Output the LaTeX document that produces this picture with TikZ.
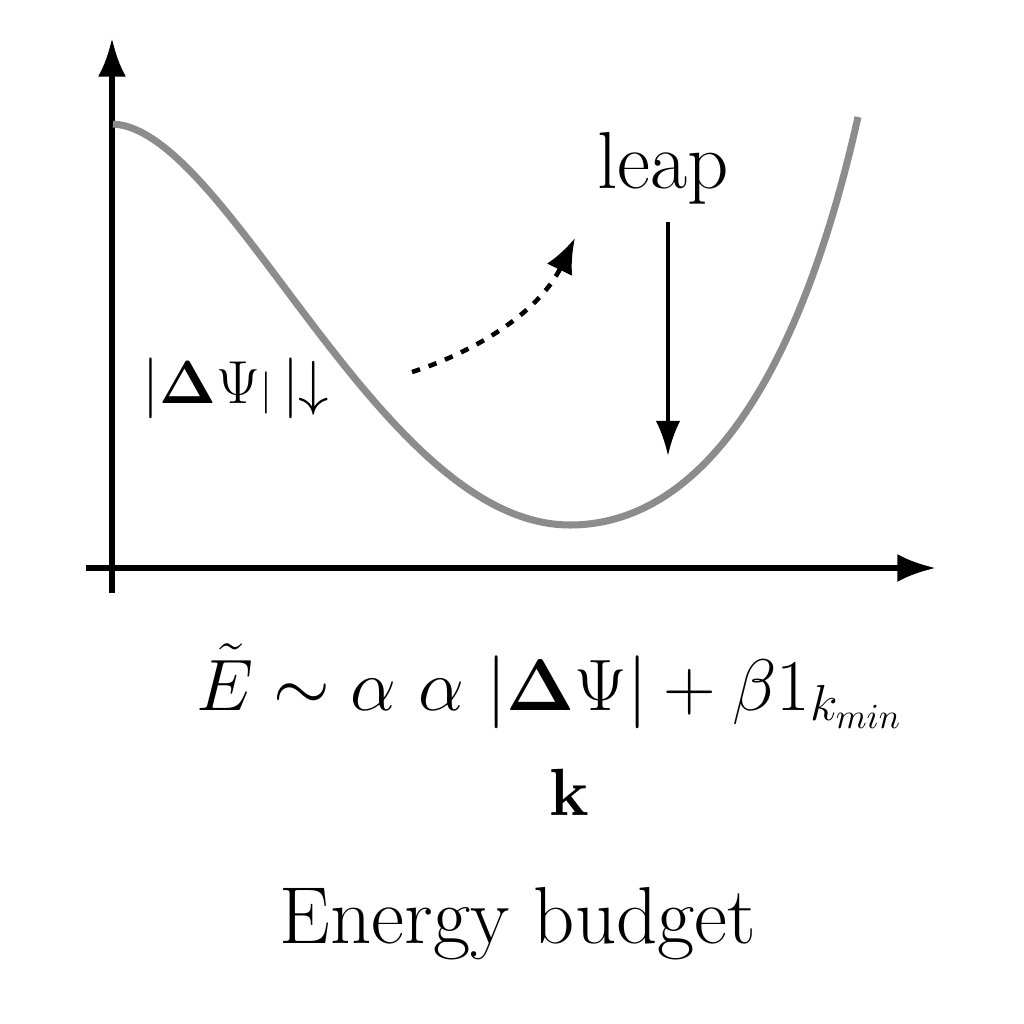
\documentclass[tikz,border=0pt]{standalone}
\usepackage{amsmath,amssymb}
\usetikzlibrary{arrows.meta}
\tikzset{
  axis/.style={line width=1.7pt,-{Latex[length=11pt,width=8pt]}},
  curve/.style={line width=2pt,color=black!45},
  pointer/.style={line width=1.2pt,-{Latex[length=10pt,width=7pt]}},
  dashptr/.style={line width=1.3pt,dash pattern=on 2.4pt off 2.6pt,-{Latex[length=10pt,width=8pt]}},
  lbl/.style={inner sep=0pt}
}
\begin{document}
\begin{tikzpicture}[x=0.1mm,y=-0.1mm]
\useasboundingbox[fill=white] (0,0) rectangle (1024,1024);
% axes
\coordinate (yb) at (112,593);
\coordinate (yt) at (112,38);
\coordinate (xl) at (86,568);
\coordinate (xr) at (936,568);
\draw[axis] (yb) -- (yt);
\draw[axis] (xl) -- (xr);
% curve
\coordinate (c0) at (113,124);
\coordinate (cm) at (570,525);
\coordinate (c1) at (858,117);
\draw[curve] (c0) .. controls (230,130) and (380,525) .. (cm)
             .. controls (680,525) and (790,420) .. (c1);
% labels
\node[lbl] (dpsi) at (236,388) {\fontsize{17}{20}\selectfont $|\mathbf{\Delta}\Psi{\scriptstyle|}\,|{\downarrow}$};
\node[lbl,anchor=base] (leap) at (663,188) {\fontsize{23}{27}\selectfont leap};
\coordinate (ds) at (412,372);
\coordinate (de) at (575,238);
\draw[dashptr] (ds) .. controls (480,350) and (540,310) .. (de);
\coordinate (ls) at (668,222);
\coordinate (le) at (668,456);
\draw[pointer] (ls) -- (le);
\node[lbl,anchor=base] (formula) at (550,710) {\fontsize{20.5}{25}\selectfont $\tilde{E}\sim\alpha\ \alpha\ |\mathbf{\Delta}\Psi|+\beta 1_{k_{min}}$};
\node[lbl,anchor=base] (kk) at (569,815) {\fontsize{19}{23}\selectfont\bfseries k};
\node[lbl,anchor=base] (title) at (518,943) {\fontsize{23}{28}\selectfont Energy budget};
\end{tikzpicture}
\end{document}
